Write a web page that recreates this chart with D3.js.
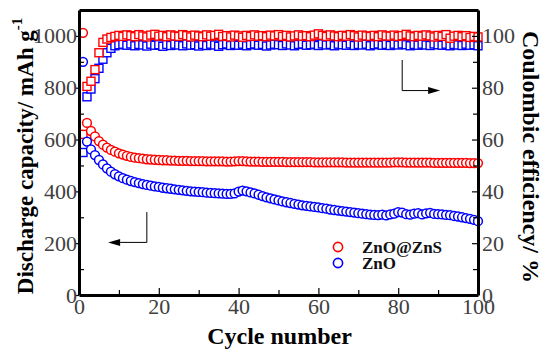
<!DOCTYPE html>
<html><head><meta charset="utf-8">
<script src="https://cdn.jsdelivr.net/npm/d3@7"></script>
<style>body{margin:0;background:#fff}svg{display:block}</style>
</head><body>
<svg id="c" width="550" height="350"></svg>
<script>
const cycles = [1,2,3,4,5,6,7,8,9,10,11,12,13,14,15,16,17,18,19,20,21,22,23,24,25,26,27,28,29,30,31,32,33,34,35,36,37,38,39,40,41,42,43,44,45,46,47,48,49,50,51,52,53,54,55,56,57,58,59,60,61,62,63,64,65,66,67,68,69,70,71,72,73,74,75,76,77,78,79,80,81,82,83,84,85,86,87,88,89,90,91,92,93,94,95,96,97,98,99,100];
const capZnOZnS = [1012,664,633,612,594,580,569,560,553,547,542,537,533,530,528,526,524,523,522,521,520,520,519,519,518,518,518,517,517,517,517,516,516,516,516,516,515,515,516,517,517,516,515,515,515,514,514,514,514,514,514,513,513,513,513,513,513,513,512,512,512,512,512,512,512,512,511,511,511,511,511,511,511,511,511,511,511,511,512,512,512,511,511,511,511,511,511,511,510,510,510,510,510,510,510,510,510,509,509,509];
const capZnO = [900,592,562,540,521,504,489,476,466,458,451,445,440,436,432,428,425,422,419,417,414,412,410,408,406,404,402,400,399,398,397,395,394,393,392,391,390,390,392,399,403,400,396,392,387,382,377,373,369,365,361,358,355,352,349,346,344,342,340,338,335,333,330,328,326,324,322,320,318,316,314,312,310,309,308,310,307,311,314,320,318,312,310,314,316,311,315,317,313,312,311,309,308,305,303,300,297,294,290,285];
const ceZnOZnS = [62,80.5,82.5,87,93.5,97.5,98.8,99.4,99.8,100.2,99.8,100.4,100.1,99.7,100.5,100.0,99.6,100.3,100.6,99.9,100.2,99.7,100.4,100.0,99.8,100.5,100.1,99.6,100.3,100.0,99.7,100.4,99.9,100.2,100.6,99.8,100.1,99.6,100.3,100.0,99.5,100.2,99.8,100.4,99.9,100.1,99.7,100.3,100.0,100.5,99.8,100.2,99.6,100.0,100.4,99.9,100.1,99.7,100.3,100.8,100.2,99.8,100.4,100.0,99.7,100.2,99.9,100.5,100.1,99.6,100.3,100.0,99.8,100.2,99.7,100.4,100.0,99.9,100.3,99.8,100.1,100.6,100.0,99.7,100.2,99.9,100.4,100.0,99.6,100.2,99.8,100.5,99.1,99.9,100.2,99.7,100.1,99.4,99.8,99.6];
const ceZnO = [55,76.5,79.5,83.5,87.5,91,93.5,95.2,96.2,96.6,96.8,96.4,96.9,96.2,96.7,96.5,96.1,96.8,96.4,96.6,96.0,96.7,96.3,96.8,96.5,96.2,96.9,96.4,96.6,96.1,96.7,96.3,96.8,96.5,96.0,96.6,96.9,96.3,96.7,96.4,96.8,96.2,96.6,96.9,96.4,96.7,96.1,96.5,96.8,96.6,96.3,96.9,96.5,96.2,96.7,96.9,96.4,96.6,96.8,96.3,96.9,96.5,96.7,96.2,96.8,96.6,96.4,96.9,96.3,96.7,96.5,96.8,96.2,96.6,96.9,96.4,96.7,96.3,96.8,96.5,96.9,96.6,96.2,96.7,96.4,96.8,96.5,96.3,96.9,96.6,96.4,96.8,96.2,96.7,96.5,96.3,96.8,96.4,96.6,96.2];
const xTicks = [0,20,40,60,80,100];
const yLeftTicks = [0,200,400,600,800,1000];
const yRightTicks = [0,20,40,60,80,100];
const legendLabels = ["ZnO@ZnS","ZnO"];
// annotation arrows in data units: [x, y] points on the path, last point is the arrow tip
const arrowLeft = [[17,320],[17,203],[7.3,203]];   // left axis units
const arrowRight = [[81,90.7],[81,78.9],[90.5,78.9]]; // right axis units

const RED = "#ff0000", BLUE = "#0000ff";
const svg = d3.select("#c");
const L = 79, R = 478, T = 10, B = 295;
const x = d3.scaleLinear().domain([0,100]).range([L,R]);
const yL = d3.scaleLinear().domain([0,1100]).range([B,T]);
const yR = d3.scaleLinear().domain([0,110]).range([B,T]);
const FONT = "Liberation Serif";

function squares(vals, color){
  svg.append("g").selectAll("rect").data(vals).join("rect")
    .attr("x",(d,i)=>x(cycles[i])-4).attr("y",d=>yR(d)-4)
    .attr("width",8).attr("height",8)
    .attr("fill","#fff").attr("stroke",color).attr("stroke-width",1.4);
}
function circles(vals, color){
  svg.append("g").selectAll("circle").data(vals).join("circle")
    .attr("cx",(d,i)=>x(cycles[i])).attr("cy",d=>yL(d)).attr("r",4.4)
    .attr("fill","#fff").attr("stroke",color).attr("stroke-width",1.5);
}
squares(ceZnO, BLUE);
squares(ceZnOZnS, RED);
circles(capZnOZnS, RED);
circles(capZnO, BLUE);

function styleAxis(g){
  g.attr("font-family",FONT);
  g.selectAll(".domain").attr("stroke","#000").attr("stroke-width",3);
  g.selectAll(".tick line").attr("stroke","#000").attr("stroke-width",1.2);
  g.selectAll(".tick text").attr("fill","#404040").attr("font-family",FONT).attr("font-size",22);
}
function minor(g){ g.select(".domain").remove(); g.selectAll("line").attr("stroke","#000").attr("stroke-width",1.2); }
svg.append("g").attr("transform",`translate(${L},0)`)
  .call(d3.axisLeft(yL).tickValues([100,300,500,700,900]).tickSize(-5).tickFormat("")).call(minor);
svg.append("g").attr("transform",`translate(0,${B})`)
  .call(d3.axisBottom(x).tickValues([10,30,50,70,90]).tickSize(-5).tickFormat("")).call(minor);
svg.append("g").attr("transform",`translate(${R},0)`)
  .call(d3.axisRight(yR).tickValues([10,30,50,70,90]).tickSize(-5).tickFormat("")).call(minor);

const fmt = d3.format("d");
svg.append("g").attr("transform",`translate(${L},0)`)
  .call(d3.axisLeft(yL).tickValues(yLeftTicks).tickFormat(fmt).tickSize(3).tickSizeOuter(0).tickPadding(-1))
  .call(styleAxis);
svg.append("g").attr("transform",`translate(0,${B})`)
  .call(d3.axisBottom(x).tickValues(xTicks).tickFormat(fmt).tickSize(-7).tickSizeOuter(0).tickPadding(3))
  .call(styleAxis);
svg.append("g").attr("transform",`translate(${R},0)`)
  .call(d3.axisRight(yR).tickValues(yRightTicks).tickFormat(fmt).tickSize(-6).tickSizeOuter(0).tickPadding(4))
  .call(styleAxis);
svg.append("g").attr("transform",`translate(0,${T})`)
  .call(d3.axisTop(x).tickValues([]).tickSizeOuter(0))
  .call(styleAxis);

svg.append("text").attr("x",(L+R)/2+1).attr("y",344).attr("text-anchor","middle")
  .attr("font-family",FONT).attr("font-size",24).attr("font-weight","bold").text("Cycle number");
const yt = svg.append("text").attr("transform","translate(33,156) rotate(-90)").attr("text-anchor","middle")
  .attr("font-family",FONT).attr("font-size",23).attr("font-weight","bold");
yt.append("tspan").text("Discharge capacity/ mAh g");
yt.append("tspan").attr("dy","-11").attr("font-size",15).text("-1");
svg.append("text").attr("transform","translate(523,157) rotate(90)").attr("text-anchor","middle")
  .attr("font-family",FONT).attr("font-size",24).attr("font-weight","bold").text("Coulombic efficiency/ %");

function arrow(pts, ys){
  const p = pts.map(d=>[x(d[0]), ys(d[1])]);
  const tip = p[p.length-1], prev = p[p.length-2];
  const dir = Math.sign(tip[0]-prev[0]);
  const base = [tip[0]-dir*12, tip[1]];
  svg.append("path").attr("d", d3.line()(p.slice(0,-1).concat([base])))
    .attr("fill","none").attr("stroke","#000").attr("stroke-width",1);
  svg.append("path").attr("d",`M${tip[0]},${tip[1]}L${base[0]},${base[1]-3.5}L${base[0]},${base[1]+3.5}Z`).attr("fill","#000");
}
arrow(arrowLeft, yL);
arrow(arrowRight, yR);

const lg = svg.append("g");
[RED,BLUE].forEach((c,i)=>{
  lg.append("circle").attr("cx",338).attr("cy",247+i*16).attr("r",4.6)
    .attr("fill","#fff").attr("stroke",c).attr("stroke-width",1.6);
  lg.append("text").attr("x",362).attr("y",253+i*16)
    .attr("font-family",FONT).attr("font-size",17).attr("font-weight","bold").attr("fill","#111")
    .text(legendLabels[i]);
});
</script>
</body></html>
